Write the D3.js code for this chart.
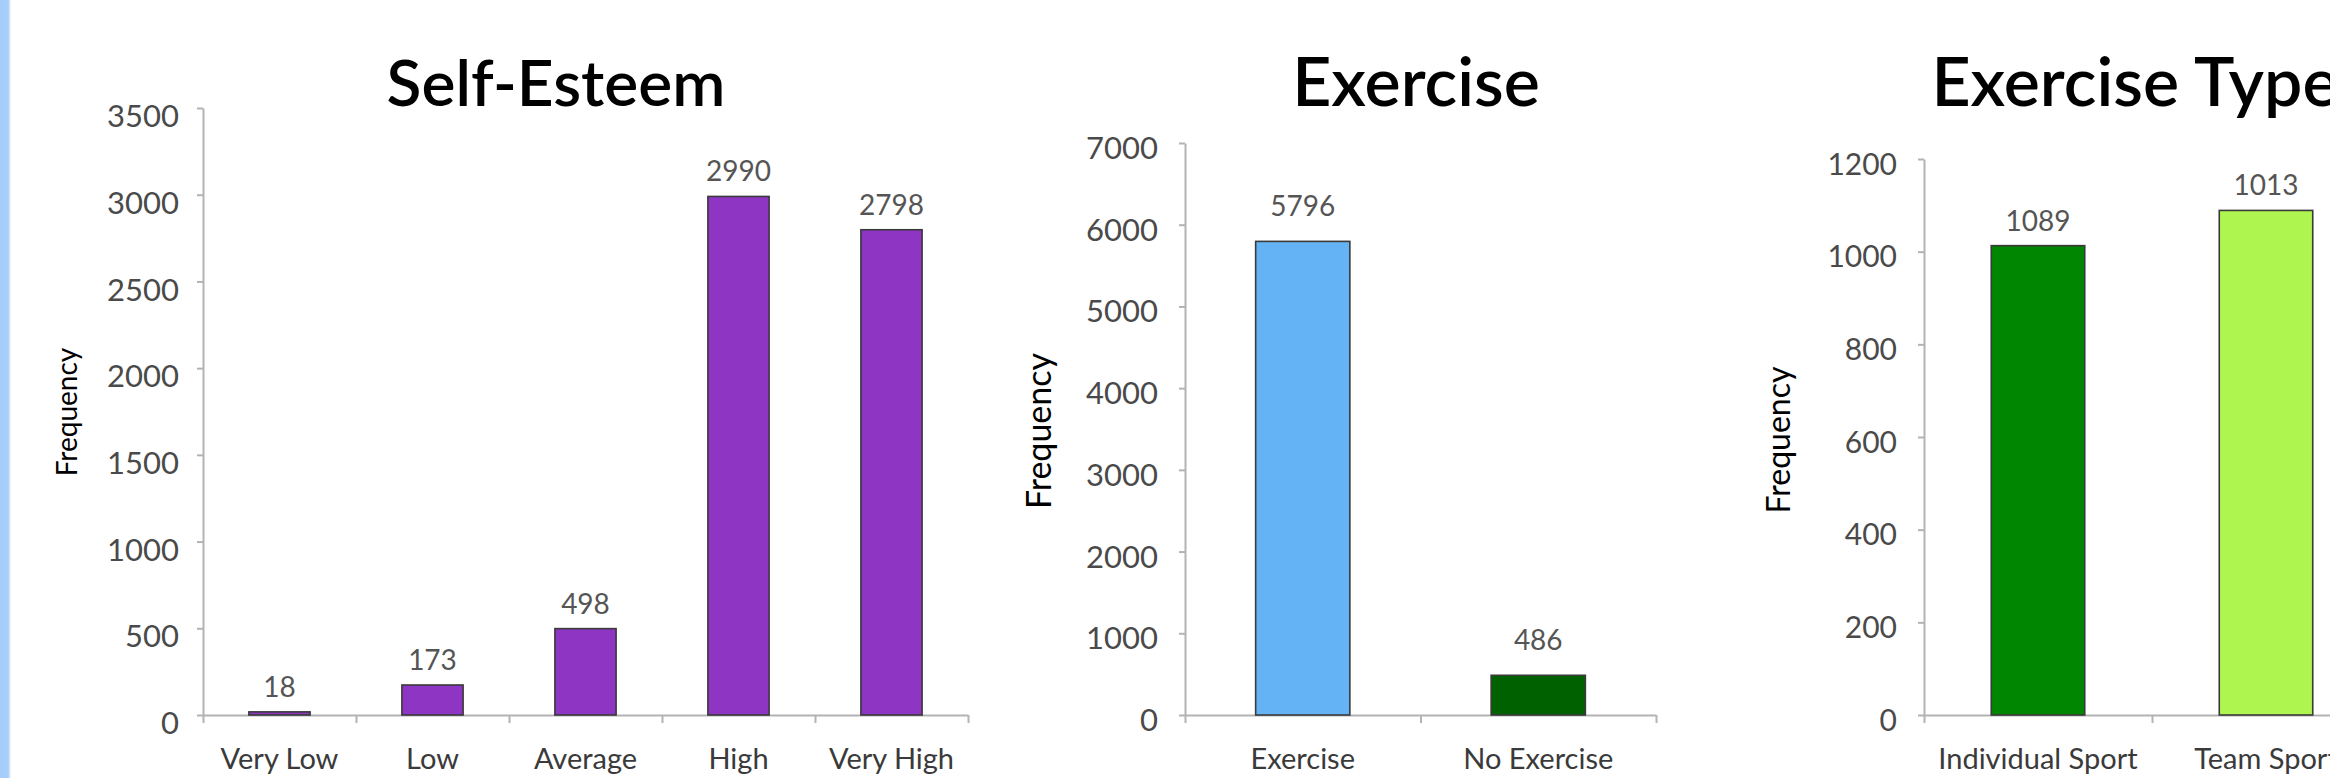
<!DOCTYPE html>
<html>
<head>
<meta charset="utf-8">
<script src="https://cdn.jsdelivr.net/npm/d3@7/dist/d3.min.js"></script>
<style>
  html, body { margin: 0; padding: 0; background: #fff; }
  svg { display: block; }
  text { font-family: "Lato", "Open Sans", sans-serif; }
</style>
</head>
<body>
<svg id="chart" width="2330" height="778"></svg>
<script>
// ---------- data ----------
const seCategories = ["Very Low", "Low", "Average", "High", "Very High"];
const seValues = [18, 173, 498, 2990, 2798];
const seTicks = [0, 500, 1000, 1500, 2000, 2500, 3000, 3500];

const exCategories = ["Exercise", "No Exercise"];
const exValues = [5796, 486];
const exTicks = [0, 1000, 2000, 3000, 4000, 5000, 6000, 7000];

const typeCategories = ["Individual Sport", "Team Sport"];
const typeValues = [1013, 1089];          // bar heights as drawn
const typeLabels = ["1089", "1013"];      // value labels as printed in the original
const typeTicks = [0, 200, 400, 600, 800, 1000, 1200];

const seColors = ["#8f35c4", "#8f35c4", "#8f35c4", "#8f35c4", "#8f35c4"];
const exColors = ["#64b3f4", "#006100"];
const typeColors = ["#008600", "#aef550"];

const titles = ["Self-Esteem", "Exercise", "Exercise Type"];
const yTitle = "Frequency";

// ---------- drawing ----------
const svg = d3.select("#chart");

// light-blue strip at the left edge
const defs = svg.append("defs");
const grad = defs.append("linearGradient").attr("id", "strip").attr("x1", 0).attr("x2", 1);
grad.append("stop").attr("offset", "0%").attr("stop-color", "#a5ccfb");
grad.append("stop").attr("offset", "75%").attr("stop-color", "#a8cefb");
grad.append("stop").attr("offset", "100%").attr("stop-color", "#ffffff");
svg.append("rect").attr("x", 0).attr("y", 0).attr("width", 11).attr("height", 778).attr("fill", "url(#strip)");

function drawChart(cfg) {
  const g = svg.append("g");
  const x = d3.scaleBand().domain(cfg.categories).range([cfg.x0, cfg.x1]).padding(0);
  const y = d3.scaleLinear().domain([0, cfg.yMax]).range([cfg.yBase, cfg.yTop]);

  // y axis
  const yAxis = g.append("g")
    .attr("transform", `translate(${cfg.x0},0)`)
    .call(d3.axisLeft(y).tickValues(cfg.ticks).tickFormat(d3.format("d"))
      .tickSize(6).tickSizeOuter(0).tickPadding(cfg.tickPad));
  yAxis.select(".domain").attr("stroke", "#b3b3b3").attr("stroke-width", 2);
  yAxis.selectAll(".tick line").attr("stroke", "#b3b3b3").attr("stroke-width", 2);
  yAxis.selectAll(".tick text")
    .attr("fill", "#4a4a4a").attr("font-size", cfg.tickFont)
    .attr("font-family", "Lato, sans-serif")
    .attr("dy", cfg.tickDy);

  // x axis: line with ticks at band boundaries
  const n = cfg.categories.length;
  const xb = d3.scaleLinear().domain([0, n]).range([cfg.x0, cfg.x1]);
  const xAxis = g.append("g")
    .attr("transform", `translate(0,${cfg.yBase})`)
    .call(d3.axisBottom(xb).tickValues(d3.range(n + 1)).tickSize(8).tickSizeOuter(0).tickFormat(""));
  xAxis.select(".domain").attr("stroke", "#b3b3b3").attr("stroke-width", 2);
  xAxis.selectAll(".tick line").attr("stroke", "#b3b3b3").attr("stroke-width", 2);

  // category labels
  g.selectAll("text.cat").data(cfg.categories).enter().append("text")
    .attr("class", "cat")
    .attr("x", d => x(d) + x.bandwidth() / 2)
    .attr("y", cfg.catY)
    .attr("text-anchor", "middle")
    .attr("font-size", cfg.catFont)
    .attr("fill", "#3a3a3a")
    .text(d => d);

  // bars
  const bw = x.bandwidth() * cfg.barFrac;
  g.selectAll("rect.bar").data(cfg.values).enter().append("rect")
    .attr("class", "bar")
    .attr("x", (d, i) => x(cfg.categories[i]) + (x.bandwidth() - bw) / 2)
    .attr("y", d => y(d))
    .attr("width", bw)
    .attr("height", d => y(0) - y(d))
    .attr("fill", (d, i) => cfg.colors[i])
    .attr("stroke", "#3a3a3a")
    .attr("stroke-width", 1.6);

  // value labels
  g.selectAll("text.val").data(cfg.values).enter().append("text")
    .attr("class", "val")
    .attr("x", (d, i) => x(cfg.categories[i]) + x.bandwidth() / 2)
    .attr("y", d => y(d) - cfg.valGap)
    .attr("text-anchor", "middle")
    .attr("font-size", cfg.valFont)
    .attr("fill", "#555")
    .text((d, i) => cfg.labels ? cfg.labels[i] : d);

  // title
  g.append("text")
    .attr("x", cfg.titleX).attr("y", 106)
    .attr("text-anchor", "middle")
    .attr("font-size", cfg.titleFont)
    .attr("font-weight", 600)
    .attr("fill", "#000")
    .text(cfg.title);

  // y axis title
  g.append("text")
    .attr("transform", `translate(${cfg.yTitleX},${cfg.yTitleY}) rotate(-90)`)
    .attr("text-anchor", "middle")
    .attr("font-size", cfg.yTitleFont)
    .attr("fill", "#000")
    .text(yTitle);
}

drawChart({
  categories: seCategories, values: seValues, ticks: seTicks, colors: seColors,
  title: titles[0], titleX: 556, titleFont: 64,
  x0: 203, x1: 968, yBase: 715, yTop: 108, yMax: 3500,
  barFrac: 0.4, tickFont: 31, tickPad: 18, tickDy: "0.6em",
  catFont: 29, catY: 769, valFont: 28, valGap: 15,
  yTitleX: 77, yTitleY: 412, yTitleFont: 28
});

drawChart({
  categories: exCategories, values: exValues, ticks: exTicks, colors: exColors,
  title: titles[1], titleX: 1416, titleFont: 68,
  x0: 1185, x1: 1656, yBase: 715, yTop: 143, yMax: 7000,
  barFrac: 0.4, tickFont: 31, tickPad: 21, tickDy: "0.5em",
  catFont: 29, catY: 769, valFont: 28, valGap: 25,
  yTitleX: 1051, yTitleY: 431, yTitleFont: 34
});

drawChart({
  categories: typeCategories, values: typeValues, labels: typeLabels, ticks: typeTicks, colors: typeColors,
  title: titles[2], titleX: 2135, titleFont: 68,
  x0: 1924, x1: 2380, yBase: 715, yTop: 159, yMax: 1200,
  barFrac: 0.41, tickFont: 30, tickPad: 21, tickDy: "0.5em",
  catFont: 29, catY: 769, valFont: 28, valGap: 15,
  yTitleX: 1790, yTitleY: 440, yTitleFont: 32
});
</script>
</body>
</html>
